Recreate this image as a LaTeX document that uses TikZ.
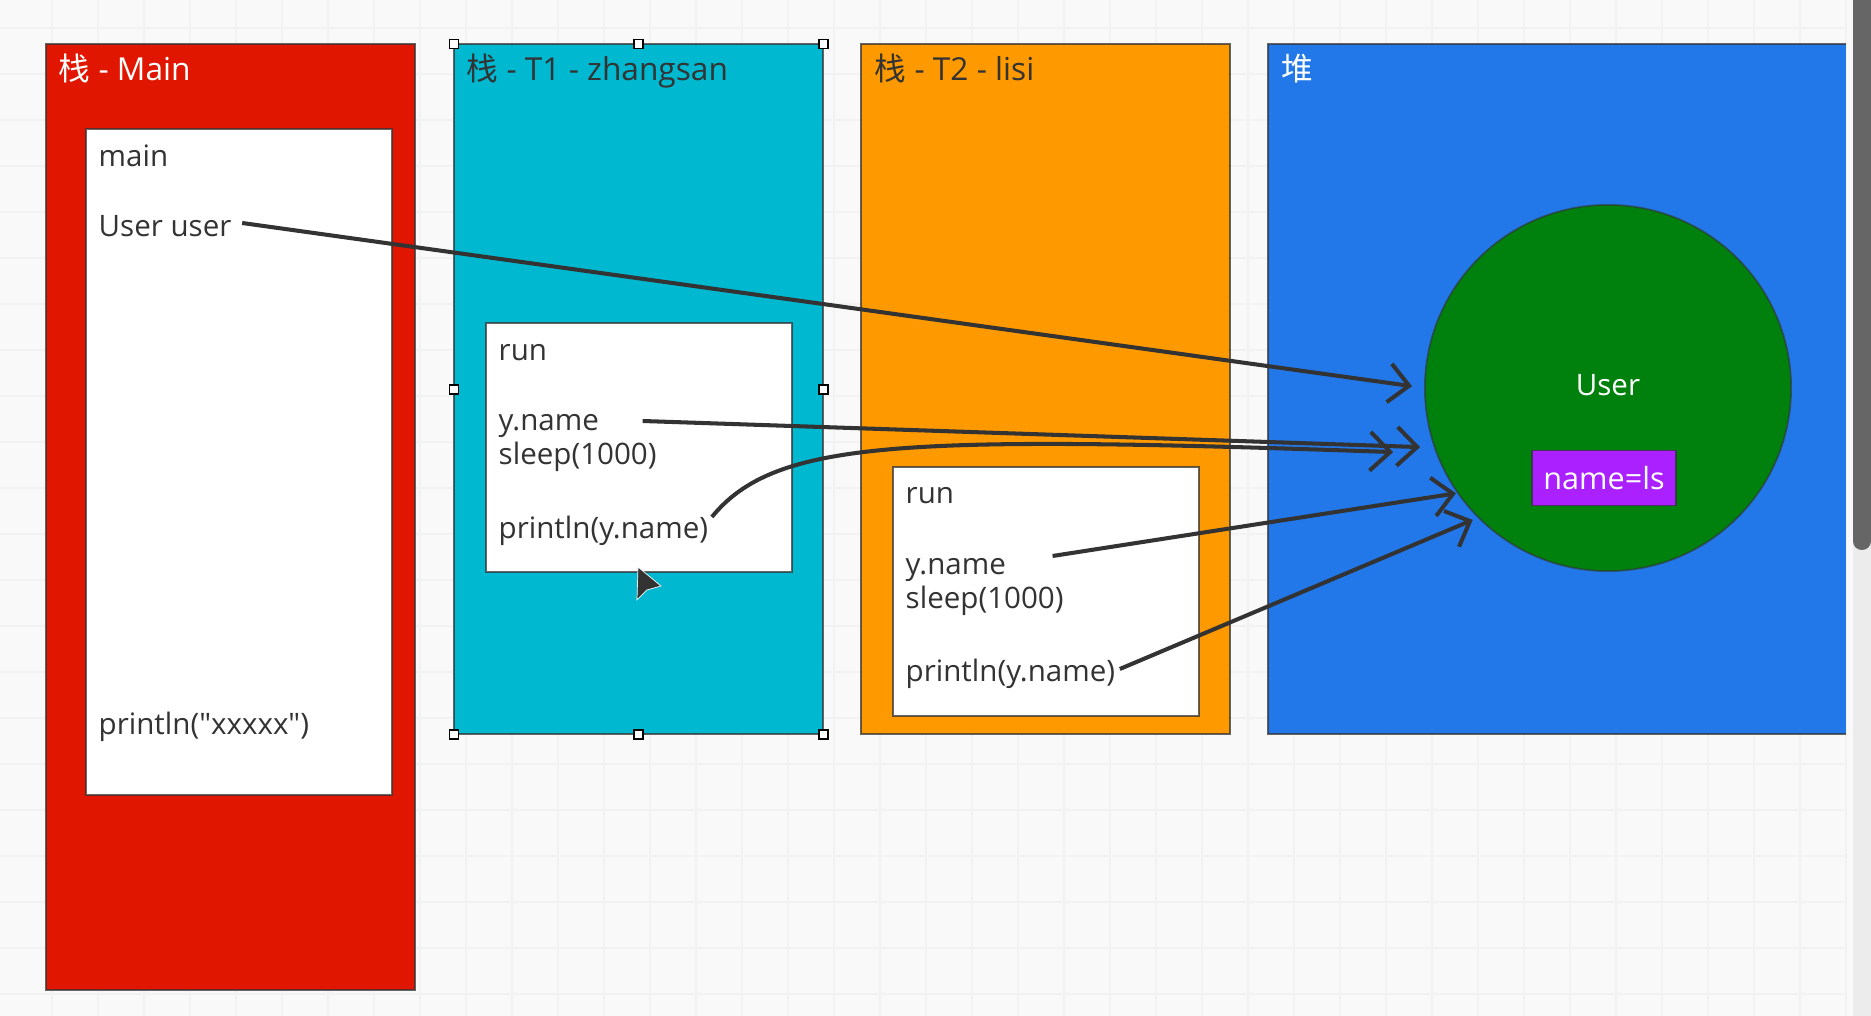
\documentclass[tikz,border=0pt]{standalone}
\usepackage{fontspec}
\usepackage{xcolor}
\usetikzlibrary{arrows.meta}
\newfontfamily\codefont{Open Sans}
\newfontfamily\cjk{Noto Sans CJK SC}
\definecolor{pagegray}{RGB}{249, 249, 249}
\definecolor{gridgray}{RGB}{242, 242, 242}
\definecolor{stackred}{RGB}{224, 22, 0}
\definecolor{stackteal}{RGB}{0, 184, 208}
\definecolor{stackorange}{RGB}{255, 153, 0}
\definecolor{heapblue}{RGB}{34, 120, 232}
\definecolor{usergreen}{RGB}{0, 128, 12}
\definecolor{fieldpurple}{RGB}{170, 32, 255}
\definecolor{inkgray}{RGB}{51, 51, 51}
\tikzset{
    panel/.style={draw=inkgray, draw opacity=0.75, line width=0.55pt, anchor=north west, inner sep=0pt, outer sep=0pt},
    stackbox/.style={panel, minimum width=3.69cm, minimum height=6.9cm},
    framebox/.style={panel, fill=white, minimum width=3.06cm},
    code/.style={anchor=west, inner sep=0pt, text=inkgray, font=\codefont\fontsize{8.4}{10}\selectfont, text height=6pt, text depth=1.8pt},
    title/.style={code, font=\codefont\fontsize{9}{10}\selectfont},
    handle/.style={draw=black, fill=white, line width=0.5pt, minimum size=0.09cm, inner sep=0pt},
    ref/.style={draw=inkgray, line width=1.15pt, -{Straight Barb[length=5.7pt, width=11pt]}},
}
\begin{document}
\begin{tikzpicture}[x=0.01cm, y=-0.01cm]
\useasboundingbox (0,0) rectangle (1871,1016);
\fill[pagegray] (0,0) rectangle (1871,1016);
% Canvas grid
\foreach \x in {52,98,...,1850} \draw[gridgray, line width=0.6pt] (\x,0) -- (\x,1016);
\foreach \y in {28,74,...,1016} \draw[gridgray, line width=0.6pt] (0,\y) -- (1846,\y);

% Scroll bar
\fill[gray!15] (1853,0) rectangle (1871,1016);
\fill[black!60, rounded corners=2.5pt] (1853,-12) rectangle (1871,550);

% Stack of main
\node[stackbox, fill=stackred, minimum height=9.45cm] (mainbox) at (46,44) {};
\node[title, text=white] (maintitle) at (58,73) {{\cjk 栈} - Main};
\node[framebox, minimum height=6.66cm] (mainframe) at (86,129) {};
\node[code] (mainname) at (98,159) {main};
\node[code] (mainuser) at (98,229) {User user};
\node[code] (mainprint) at (98,727) {println("xxxxx")};

% Stack of T1
\node[stackbox, fill=stackteal] (tonebox) at (454,44) {};
\node[title] (tonetitle) at (466,73) {{\cjk 栈} - T1 - zhangsan};
\node[framebox, minimum height=2.49cm] (toneframe) at (486,323) {};
\node[code] (tonerun) at (498,353) {run};
\node[code] (tonename) at (498,423) {y.name};
\node[code] (tonesleep) at (498,457) {sleep(1000)};
\node[code] (toneprint) at (498,531) {println(y.name)};
\foreach \a [count=\i] in {north west,north,north east,west,east,south west,south,south east}
    \node[handle] (handle\i) at (tonebox.\a) {};

% Stack of T2
\node[stackbox, fill=stackorange] (ttwobox) at (861,44) {};
\node[title] (ttwotitle) at (874,73) {{\cjk 栈} - T2 - lisi};
\node[framebox, minimum height=2.49cm] (ttwoframe) at (893,467) {};
\node[code] (ttworun) at (905,496) {run};
\node[code] (ttwoname) at (905,567) {y.name};
\node[code] (ttwosleep) at (905,601) {sleep(1000)};
\node[code] (ttwoprint) at (905,674) {println(y.name)};

% Heap
\node[stackbox, fill=heapblue, minimum width=5.78cm, draw=none] (heapbox) at (1268,44) {};
\draw[draw=inkgray, draw opacity=0.75, line width=0.55pt] (heapbox.north east) -- (heapbox.north west) -- (heapbox.south west) -- (heapbox.south east);
\node[title, text=white] (heaptitle) at (1281,73) {{\cjk 堆}};
\node[circle, draw=inkgray, draw opacity=0.6, line width=0.5pt, fill=usergreen, minimum size=3.66cm, inner sep=0pt, outer sep=0pt] (user) at (1608,388) {};
\node[code, anchor=center, text=white] (username) at (1608,388) {User};
\node[panel, anchor=center, fill=fieldpurple, minimum width=1.43cm, minimum height=0.55cm, text=white, font=\codefont\fontsize{8.7}{10}\selectfont] (field) at (1604,478) {name=ls};

% References
\draw[ref, shorten >=3.7pt] ([shift={(10,-6)}]mainuser.east) -- (user.180);
\draw[ref, shorten >=4.2pt] ([shift={(43,-2)}]tonename.east) -- (user.199);
\draw[ref, shorten >=12.5pt] ([shift={(3,-14)}]toneprint.east) .. controls (775,440) and (900,435) .. (user.201);
\draw[ref, shorten >=0.6pt] ([shift={(46,-11)}]ttwoname.east) -- (user.215);
\draw[ref, shorten >=1.8pt] ([shift={(4,-5)}]ttwoprint.east) -- (user.225);

% Pointer
\fill[inkgray, draw=white, line width=0.2pt] (638,567) -- (661,586) -- (647,590) -- (637,600) -- cycle;
\end{tikzpicture}
\end{document}
